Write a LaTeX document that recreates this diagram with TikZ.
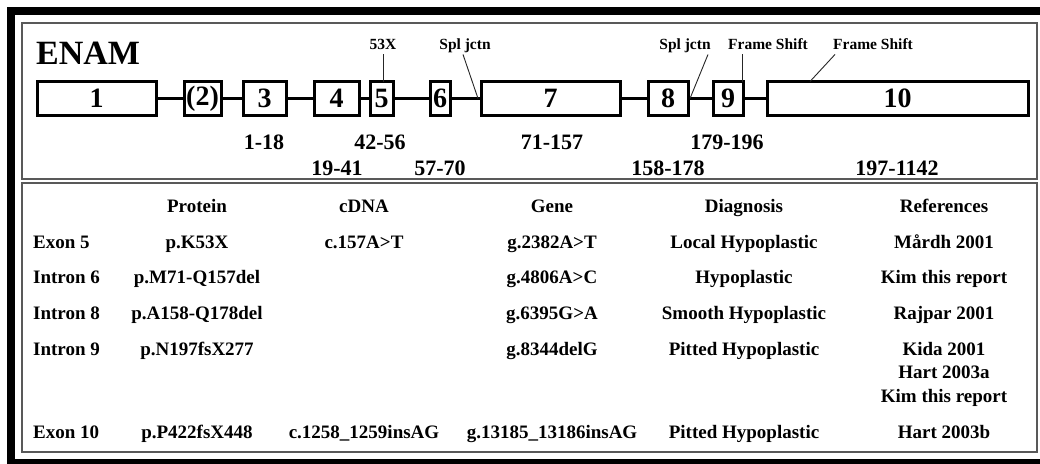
\documentclass[tikz,border=0pt]{standalone}
\usepackage{fontspec}
\setmainfont{Liberation Serif}
\begin{document}
\begin{tikzpicture}[x=1pt,y=-1pt,
  exon/.style={draw=black,line width=3pt,minimum height=34pt,inner sep=0pt,
    font=\bfseries\fontsize{28}{30}\selectfont},
  intron/.style={draw=black,line width=3pt},
  panelbox/.style={draw=black!65,line width=1.6pt},
  notelab/.style={inner sep=1pt,text height=11pt,text depth=3.5pt,
    font=\bfseries\fontsize{15.5}{17}\selectfont},
  leader/.style={draw=black!85,line width=0.9pt},
  rangelab/.style={inner sep=0pt,font=\bfseries\fontsize{22}{24}\selectfont},
  cell/.style={inner sep=0pt,text height=13.5pt,text depth=4pt,
    font=\bfseries\fontsize{19}{21}\selectfont},
  rowlab/.style={cell,anchor=west}]
\useasboundingbox (0,0) rectangle (1040,463);
\begin{scope}
\clip (0,0) rectangle (1040,463);
\fill[white] (0,0) rectangle (1040,463);
\draw[black,line width=8pt] (11,11) rectangle (1060,463);
\end{scope}
% panels
\draw[panelbox] (22,23) rectangle (1037,179);
\draw[panelbox] (22,183) rectangle (1037,452);
% title
\node[anchor=west,inner sep=0pt,font=\bfseries\fontsize{34}{36}\selectfont] (title) at (36,53) {ENAM};
% exons
\node[exon,minimum width=119pt] (e1) at (96.5,98.5) {1};
\node[exon,minimum width=37pt] (e2) at (202.5,98.5) {(2)};
\node[exon,minimum width=43pt] (e3) at (264.5,98.5) {3};
\node[exon,minimum width=45pt] (e4) at (336.5,98.5) {4};
\node[exon,minimum width=23pt] (e5) at (381.5,98.5) {5};
\node[exon,minimum width=20pt] (e6) at (440,98.5) {6};
\node[exon,minimum width=139pt] (e7) at (550.5,98.5) {7};
\node[exon,minimum width=40pt] (e8) at (668,98.5) {8};
\node[exon,minimum width=30pt] (e9) at (728,98.5) {9};
\node[exon,minimum width=261pt] (e10) at (897.5,98.5) {10};
% introns
\draw[intron] (e1) -- (e2);
\draw[intron] (e2) -- (e3);
\draw[intron] (e3) -- (e4);
\draw[intron] (e4) -- (e5);
\draw[intron] (e5) -- (e6);
\draw[intron] (e6) -- (e7);
\draw[intron] (e7) -- (e8);
\draw[intron] (e8) -- (e9);
\draw[intron] (e9) -- (e10);
% mutation notes
\node[notelab] (n53) at (383,46) {53X};
\node[notelab] (nsj1) at (465,46) {Spl jctn};
\node[notelab] (nsj2) at (685,46) {Spl jctn};
\node[notelab] (nfs1) at (768,46) {Frame Shift};
\node[notelab] (nfs2) at (873,46) {Frame Shift};
\coordinate (p53) at (383,81.5);
\coordinate (psj1) at (478,98.5);
\coordinate (psj2) at (690,98.5);
\coordinate (pfs1) at (742,81.5);
\coordinate (pfs2) at (810,81.5);
\draw[leader] (n53.south) -- (p53);
\draw[leader] (nsj1.south) ++(-2,0) -- (psj1);
\draw[leader] (nsj2.south) ++(23,0) -- (psj2);
\draw[leader] (nfs1.south) ++(-26,0) -- (pfs1);
\draw[leader] (nfs2.south) ++(-38,0) -- (pfs2);
% ranges
\node[rangelab] (r3) at (264,142) {1-18};
\node[rangelab] (r5) at (380,142) {42-56};
\node[rangelab] (r7) at (552,142) {71-157};
\node[rangelab] (r9) at (727,142) {179-196};
\node[rangelab] (r4) at (337,168) {19-41};
\node[rangelab] (r6) at (440,168) {57-70};
\node[rangelab] (r8) at (668,168) {158-178};
\node[rangelab] (r10) at (897,168) {197-1142};
% table header
\node[cell] (hp) at (197,207.3) {Protein};
\node[cell] (hc) at (364,207.3) {cDNA};
\node[cell] (hg) at (552,207.3) {Gene};
\node[cell] (hd) at (744,207.3) {Diagnosis};
\node[cell] (hr) at (944,207.3) {References};
% rows
\node[rowlab] (l1) at (33,243.3) {Exon 5};
\node[cell] (p1) at (197,243.3) {p.K53X};
\node[cell] (c1) at (364,243.3) {c.157A>T};
\node[cell] (g1) at (552,243.3) {g.2382A>T};
\node[cell] (d1) at (744,243.3) {Local Hypoplastic};
\node[cell] (f1) at (944,243.3) {Mårdh 2001};
\node[rowlab] (l2) at (33,278.3) {Intron 6};
\node[cell] (p2) at (197,278.3) {p.M71-Q157del};
\node[cell] (g2) at (552,278.3) {g.4806A>C};
\node[cell] (d2) at (744,278.3) {Hypoplastic};
\node[cell] (f2) at (944,278.3) {Kim this report};
\node[rowlab] (l3) at (33,314.3) {Intron 8};
\node[cell] (p3) at (197,314.3) {p.A158-Q178del};
\node[cell] (g3) at (552,314.3) {g.6395G>A};
\node[cell] (d3) at (744,314.3) {Smooth Hypoplastic};
\node[cell] (f3) at (944,314.3) {Rajpar 2001};
\node[rowlab] (l4) at (33,350.3) {Intron 9};
\node[cell] (p4) at (197,350.3) {p.N197fsX277};
\node[cell] (g4) at (552,350.3) {g.8344delG};
\node[cell] (d4) at (744,350.3) {Pitted Hypoplastic};
\node[cell] (f4a) at (944,350.3) {Kida 2001};
\node[cell] (f4b) at (944,373.3) {Hart 2003a};
\node[cell] (f4c) at (944,397.3) {Kim this report};
\node[rowlab] (l5) at (33,433.3) {Exon 10};
\node[cell] (p5) at (197,433.3) {p.P422fsX448};
\node[cell] (c5) at (364,433.3) {c.1258\_1259insAG};
\node[cell] (g5) at (552,433.3) {g.13185\_13186insAG};
\node[cell] (d5) at (744,433.3) {Pitted Hypoplastic};
\node[cell] (f5) at (944,433.3) {Hart 2003b};
\end{tikzpicture}
\end{document}
